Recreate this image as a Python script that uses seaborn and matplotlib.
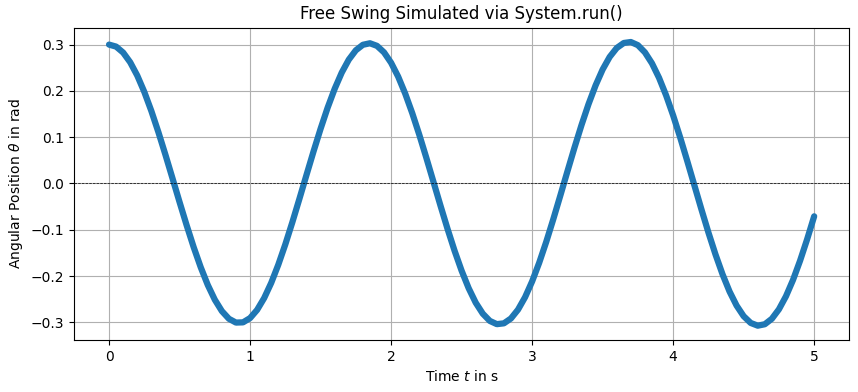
import numpy as np
import pandas as pd
import matplotlib
matplotlib.use('Agg')
import matplotlib.pyplot as plt
import seaborn as sns

## ============================================================
## values, one point every 0.05 s

t = [round(0.05 * k, 2) for k in range(101)]

theta = [
	0.3000, 0.2957, 0.2828, 0.2618, 0.2332, 0.1978, 0.1566, 0.1108, 0.0618, 0.0110,
	-0.0402, -0.0901, -0.1376, -0.1810, -0.2193, -0.2512, -0.2758, -0.2924, -0.3006, -0.3001,
	-0.2909, -0.2732, -0.2476, -0.2148, -0.1757, -0.1316, -0.0836, -0.0331, 0.0183, 0.0692,
	0.1181, 0.1637, 0.2045, 0.2395, 0.2675, 0.2877, 0.2996, 0.3029, 0.2973, 0.2832,
	0.2608, 0.2309, 0.1942, 0.1519, 0.1052, 0.0553, 0.0039, -0.0477, -0.0979, -0.1453,
	-0.1885, -0.2263, -0.2576, -0.2813, -0.2970, -0.3040, -0.3022, -0.2917, -0.2727, -0.2458,
	-0.2117, -0.1715, -0.1263, -0.0774, -0.0262, 0.0257, 0.0770, 0.1260, 0.1714, 0.2118,
	0.2462, 0.2734, 0.2927, 0.3035, 0.3056, 0.2988, 0.2832, 0.2595, 0.2283, 0.1904,
	0.1470, 0.0993, 0.0486, -0.0034, -0.0554, -0.1058, -0.1531, -0.1961, -0.2335, -0.2639,
	-0.2868, -0.3014, -0.3073, -0.3042, -0.2924, -0.2720, -0.2438, -0.2085, -0.1670, -0.1208,
	-0.0710,
]

## ============================================================

df = pd.DataFrame({'t': t, 'theta': theta})

fig, ax = plt.subplots(figsize=(8.58, 3.92), dpi=100)
sns.lineplot(data=df, x='t', y='theta', ax=ax, sort=False, color='C0',
		linewidth=4.5, solid_capstyle='round', solid_joinstyle='round')
ax.axhline(0, color='black', linestyle='--', linewidth=0.5)
ax.grid(True)
ax.set_title('Free Swing Simulated via System.run()')
ax.set_xlabel('Time $t$ in s')
ax.set_ylabel(r'Angular Position $\theta$ in rad')
fig.subplots_adjust(left=0.086, right=0.990, top=0.929, bottom=0.133)
fig.savefig('out.png', dpi=100)
